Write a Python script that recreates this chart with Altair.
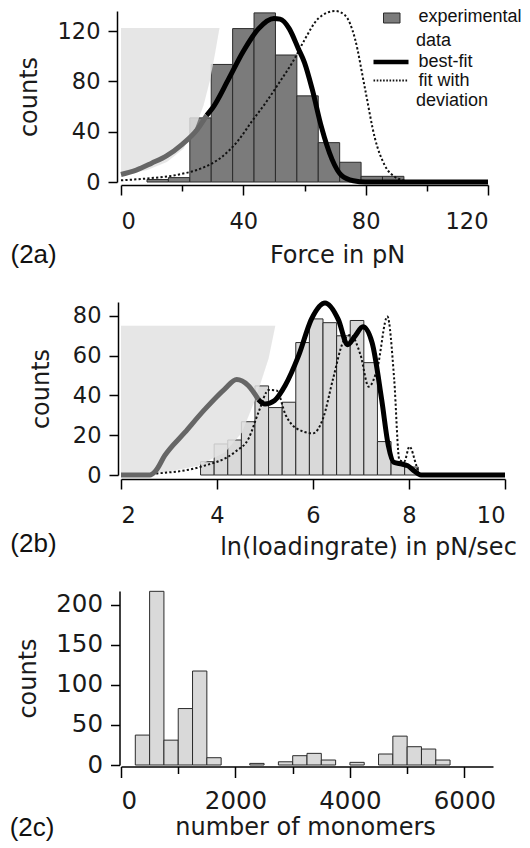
import altair as alt
import pandas as pd

# ---------------- Panel (2a): rupture force ----------------
a_bin_lo = [8.5, 15.5, 22.5, 29.5, 36.5, 43.5, 50.5, 57.5, 64.5, 71.5, 78.5, 85.5, 92.5]
a_bin_width = 7.0
a_counts = [2, 3.5, 51, 93.5, 122, 134.5, 101, 68.5, 31.3, 15.7, 4.5, 4.5, 1.2]

a_fit_x = [0, 5, 10, 15, 20, 25, 28, 30, 35, 40, 45, 50, 52, 55, 58, 60, 62.5, 65.5, 69, 72, 76, 80, 120]
a_fit_y = [6, 9.5, 15, 21, 30, 42, 53, 59, 81, 104, 122, 130, 129.5, 122, 106, 95, 74, 44, 18, 5.5, 1, 0, 0]
a_gray_end = 28

a_dev_x = [0, 8, 19, 26, 33, 38, 43, 47.6, 52, 56.5, 60, 64.5, 70, 73.3, 76.5, 79.8, 83, 86.3, 89.6, 92.3, 95, 120]
a_dev_y = [1.3, 2.7, 6, 10.6, 20, 32, 49, 64, 80, 97, 113, 130, 136, 132.5, 114, 74, 35, 13, 4, 1.3, 0, 0]

a_shade_x = [0, 8.4, 15, 20.4, 24.2, 27, 29.2, 30.8, 32.2]
a_shade_lo = [5.5, 9.3, 15.9, 26.5, 42.4, 61, 82, 103, 122.4]
a_shade_top = 122.4

# ---------------- Panel (2b): loading rate ----------------
b_bin_start = 3.657
b_bin_width = 0.2835
b_counts = [6.7, 15.6, 17.6, 26.8, 44.8, 33.9, 36.6, 66.6, 78.5, 76.6, 70, 77.7, 56.5, 16.8, 6.5, 4]

b_fit_x = [2.0, 2.6, 2.72, 2.91, 3.33, 3.75, 4.16, 4.41, 4.65, 4.86, 5.0, 5.2, 5.42, 5.70, 5.97, 6.25,
           6.53, 6.72, 6.88, 7.04, 7.23, 7.43, 7.57, 7.68, 7.85, 7.97, 8.10, 8.25, 10.0]
b_fit_y = [0, 0, 2, 9.7, 21.4, 33.1, 43.2, 48, 45, 38, 35.7, 37.5, 45, 60, 78.5, 86.5,
           78, 65.5, 70, 74.5, 66.6, 38, 14.7, 6.4, 5.5, 4.7, 2.2, 0, 0]
b_gray_end = 4.86

b_dev_x = [2.0, 2.76, 3.67, 4.38, 4.66, 4.87, 5.08, 5.24, 5.43, 5.65, 6.0, 6.21, 6.42, 6.63, 6.78,
           6.99, 7.16, 7.34, 7.55, 7.69, 7.80, 7.90, 8.01, 8.15, 8.22, 10.0]
b_dev_y = [0, 0.8, 4.2, 11.7, 18.4, 31.9, 42.8, 42.5, 30.2, 23.5, 21, 28.5, 48.6, 67, 70.4,
           60.4, 44.4, 53.7, 79.7, 48.6, 7.5, 6.7, 14.3, 5, 0, 0]

b_shade_x = [2.0, 2.92, 3.61, 4.17, 4.52, 4.80, 5.075, 5.215]
b_shade_lo = [0.5, 1.4, 4.7, 11.4, 21.4, 38.2, 58.6, 75]
b_shade_top = 75

# ---------------- Panel (2c): number of monomers ----------------
c_bin_start = 250
c_bin_width = 250
c_counts = [37.3, 216.6, 31, 70.4, 117.2, 9.1, 0, 0, 2, 0, 4, 11.6, 14.5, 6.2, 0, 3.3, 0,
            13.7, 36, 22.8, 19.9, 6.2]

# ---------------- helpers ----------------
FONT = "DejaVu Sans"
LFONT = "Liberation Sans"

def bars_df(lo, width, counts):
    return pd.DataFrame({"lo": lo, "hi": [v + width for v in lo], "n": counts})

def curve_parts(xs, ys, split):
    gray = pd.DataFrame({"x": [x for x in xs if x <= split], "y": [y for x, y in zip(xs, ys) if x <= split]})
    black = pd.DataFrame({"x": [x for x in xs if x >= split], "y": [y for x, y in zip(xs, ys) if x >= split]})
    return gray, black

one = pd.DataFrame({"k": [0]})

def label_mark(txt, x, y, size=26, font=LFONT, align="left"):
    return alt.Chart(one).mark_text(align=align, baseline="middle", font=font, fontSize=size,
                                    color="#111").encode(x=alt.value(x), y=alt.value(y), text=alt.value(txt))

def panel(bdf, bar_fill, xs, ys, xaxis, yaxis, gray=None, black=None, dev=None, shade=None):
    layers = []
    layers.append(alt.Chart(bdf).mark_rect(fill=bar_fill, stroke="#2b2b2b", strokeWidth=1).encode(
        x=alt.X("lo:Q", scale=xs, axis=xaxis), x2="hi:Q",
        y=alt.Y("n:Q", scale=ys, axis=yaxis), y2=alt.datum(0)))
    if shade is not None:
        layers.append(alt.Chart(shade).mark_area(color="#e2e2e2", opacity=0.85).encode(
            x=alt.X("x:Q", scale=xs), y=alt.Y("lo:Q", scale=ys), y2="top:Q"))
    if dev is not None:
        layers.append(alt.Chart(dev).mark_line(color="#111", strokeWidth=2, strokeDash=[2.2, 2.2],
                                               interpolate="monotone").encode(
            x=alt.X("x:Q", scale=xs), y=alt.Y("y:Q", scale=ys)))
    if gray is not None:
        layers.append(alt.Chart(gray).mark_line(color="#666", strokeWidth=5, interpolate="monotone").encode(
            x=alt.X("x:Q", scale=xs), y=alt.Y("y:Q", scale=ys)))
        layers.append(alt.Chart(black).mark_line(color="#000", strokeWidth=5, interpolate="monotone").encode(
            x=alt.X("x:Q", scale=xs), y=alt.Y("y:Q", scale=ys)))
    return layers

def cond_tick(mod, big, small):
    return {"condition": {"test": f"datum.value % {mod} === 0", "value": big}, "value": small}

# ---------------- panel a ----------------
A_W, A_H = 367, 171
a_xs = alt.Scale(domain=[0, 120], nice=False, zero=False)
a_ys = alt.Scale(domain=[0, 136], nice=False)
a_xaxis = alt.Axis(values=list(range(0, 121, 5)), tickSize=cond_tick(40, 10, 6),
                   labelExpr="datum.value % 40 === 0 ? datum.label : ''", labelPadding=15, offset=3,
                   title="Force in pN", titleX=216, titleY=70, titleAlign="center", titleBaseline="middle")
a_yaxis = alt.Axis(values=list(range(0, 121, 20)), tickSize=cond_tick(40, 9, 5),
                   labelExpr="datum.value % 40 === 0 ? datum.label : ''", labelPadding=8, offset=4,
                   title="counts", titleX=-88, titleY=A_H / 2, titleAlign="center", titleBaseline="middle")
a_gray, a_black = curve_parts(a_fit_x, a_fit_y, a_gray_end)
a_dev = pd.DataFrame({"x": a_dev_x, "y": a_dev_y})
a_shade = pd.DataFrame({"x": a_shade_x, "lo": a_shade_lo, "top": [a_shade_top] * len(a_shade_x)})
a_layers = panel(bars_df(a_bin_lo, a_bin_width, a_counts), "#7b7b7b", a_xs, a_ys, a_xaxis, a_yaxis,
                 a_gray, a_black, a_dev, a_shade)
# legend
a_layers += [
    alt.Chart(one).mark_rect(fill="#7b7b7b", stroke="#2b2b2b", strokeWidth=1).encode(
        x=alt.value(262.5), x2=alt.value(279), y=alt.value(2), y2=alt.value(12)),
    alt.Chart(one).mark_rule(color="#000", strokeWidth=4.5).encode(
        x=alt.value(252.5), x2=alt.value(287.5), y=alt.value(51)),
    alt.Chart(one).mark_rule(color="#111", strokeWidth=1.8, strokeDash=[1.6, 1.6]).encode(
        x=alt.value(252.5), x2=alt.value(287.5), y=alt.value(69.5)),
    label_mark("experimental", 297.5, 6, 18),
    label_mark("data", 295, 29.5, 18),
    label_mark("best-fit", 297.5, 51, 18),
    label_mark("fit with", 297.5, 69.5, 18),
    label_mark("deviation", 295, 89.5, 18),
    label_mark("(2a)", -110.5, 243.5, 26),
]
chart_a = alt.layer(*a_layers).properties(width=A_W, height=A_H)

# ---------------- panel b ----------------
B_W, B_H = 384, 173
b_xs = alt.Scale(domain=[2, 10], nice=False, zero=False)
b_ys = alt.Scale(domain=[0, 87], nice=False)
b_lo = [b_bin_start + i * b_bin_width for i in range(len(b_counts))]
b_xaxis = alt.Axis(values=[2, 4, 6, 8, 10], tickSize=10, labelPadding=15, offset=4,
                   title="ln(loadingrate) in pN/sec", titleX=247, titleY=68, titleAlign="center",
                   titleBaseline="middle")
b_yaxis = alt.Axis(values=[0, 20, 40, 60, 80], tickSize=9, labelPadding=8, offset=3,
                   title="counts", titleX=-77, titleY=B_H / 2, titleAlign="center", titleBaseline="middle")
b_gray, b_black = curve_parts(b_fit_x, b_fit_y, b_gray_end)
b_dev = pd.DataFrame({"x": b_dev_x, "y": b_dev_y})
b_shade = pd.DataFrame({"x": b_shade_x, "lo": b_shade_lo, "top": [b_shade_top] * len(b_shade_x)})
b_layers = panel(bars_df(b_lo, b_bin_width, b_counts), "#d9d9d9", b_xs, b_ys, b_xaxis, b_yaxis,
                 b_gray, b_black, b_dev, b_shade)
b_layers.append(label_mark("(2b)", -110.7, 242, 26))
chart_b = alt.layer(*b_layers).properties(width=B_W, height=B_H)

# ---------------- panel c ----------------
C_W, C_H = 372, 174
c_xs = alt.Scale(domain=[0, 6500], nice=False, zero=False)
c_ys = alt.Scale(domain=[0, 217], nice=False)
c_lo = [c_bin_start + i * c_bin_width for i in range(len(c_counts))]
c_bdf = bars_df(c_lo, c_bin_width, c_counts)
c_bdf = c_bdf[c_bdf["n"] > 0]
c_xaxis = alt.Axis(values=list(range(0, 6001, 1000)), tickSize=cond_tick(2000, 11, 7),
                   labelExpr="datum.value % 2000 === 0 ? datum.label : ''", labelPadding=12, offset=1.5,
                   format="d", labelFontSize=24.5,
                   title="number of monomers", titleX=184, titleY=61, titleAlign="center",
                   titleBaseline="middle")
c_yaxis = alt.Axis(values=[0, 50, 100, 150, 200], tickSize=9, labelPadding=8, offset=1.5,
                   labelFontSize=24.5,
                   title="counts", titleX=-91, titleY=C_H / 2, titleAlign="center", titleBaseline="middle")
c_layers = panel(c_bdf, "#d9d9d9", c_xs, c_ys, c_xaxis, c_yaxis)
c_layers.append(label_mark("(2c)", -111.3, 236.5, 26))
chart_c = alt.layer(*c_layers).properties(width=C_W, height=C_H)

chart = alt.vconcat(alt.vconcat(chart_a, chart_b, spacing=24), chart_c, spacing=31).properties(
    padding={"left": 9, "top": 7, "right": 0, "bottom": 5}, background="white"
).configure_view(stroke=None).configure_axis(
    labelFont=FONT, labelFontSize=22.5, labelColor="#1a1a1a", labelFontWeight="normal",
    titleFont=FONT, titleFontSize=24, titleColor="#1a1a1a", titleFontWeight="normal",
    domainColor="#000", domainWidth=1.5, tickColor="#000", tickWidth=1.5, grid=False
)

chart.save("out.html", embed_options={"renderer": "svg", "actions": False})
